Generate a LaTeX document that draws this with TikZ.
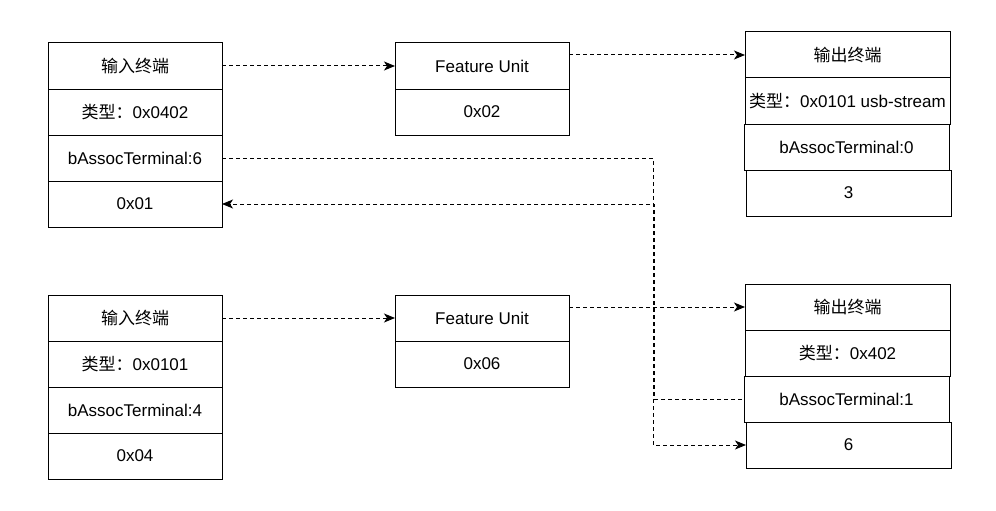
\documentclass[tikz,border=0pt]{standalone}
\usepackage{fontspec}
\setmainfont{Liberation Sans}
\newfontfamily\cjk{Noto Sans CJK SC}
\usetikzlibrary{arrows.meta,positioning}

\tikzset{
  % one row of a descriptor table
  cell/.style={draw, line width=1pt, outer sep=0pt, inner xsep=2pt,
    minimum width=174pt, minimum height=46pt,
    font=\fontsize{17}{20}\selectfont},
  wide cell/.style={cell, minimum width=205pt},
  % dashed connector with a block tip
  link/.style={line width=1pt, dash pattern=on 4pt off 3pt,
    -{Stealth[length=11pt,width=9pt,inset=3pt]}},
}

\begin{document}
\begin{tikzpicture}[x=1pt,y=-1pt]
\useasboundingbox (0,0) rectangle (996,511);

% upper chain
\node[cell] (a1) at (135,66) {{\cjk 输入终端}};
\node[cell,below=0pt of a1] (a2) {{\cjk 类型：}0x0402};
\node[cell,below=0pt of a2] (a3) {bAssocTerminal:6};
\node[cell,below=0pt of a3] (a4) {0x01};

\node[cell] (fu1) at (482,66) {Feature Unit};
\node[cell,below=0pt of fu1] (fu1id) {0x02};

\node[wide cell] (c1) at (847.5,55) {{\cjk 输出终端}};
\node[wide cell,below=0pt of c1] (c2) {{\cjk 类型：}0x0101 usb-stream};
\node[wide cell,below=0pt of c2,xshift=-1pt] (c3) {bAssocTerminal:0};
\node[wide cell,below=0pt of c3,xshift=2pt] (c4) {3};

% lower chain
\node[cell] (b1) at (135,318) {{\cjk 输入终端}};
\node[cell,below=0pt of b1] (b2) {{\cjk 类型：}0x0101};
\node[cell,below=0pt of b2] (b3) {bAssocTerminal:4};
\node[cell,below=0pt of b3] (b4) {0x04};

\node[cell] (fu2) at (482,318) {Feature Unit};
\node[cell,below=0pt of fu2] (fu2id) {0x06};

\node[wide cell] (d1) at (847.5,307) {{\cjk 输出终端}};
\node[wide cell,below=0pt of d1] (d2) {{\cjk 类型：}0x402};
\node[wide cell,below=0pt of d2,xshift=-1pt] (d3) {bAssocTerminal:1};
\node[wide cell,below=0pt of d3,xshift=2pt] (d4) {6};

\coordinate (bus) at (653,0);
\coordinate (bus2) at (654,0);

\draw[link] (a1.east) -- (fu1.west);
\draw[link] (fu1.east |- c1.west) -- (c1.west);
\draw[link] (b1.east) -- (fu2.west);
\draw[link] (fu2.east |- d1.west) -- (d1.west);

% terminal associations
\draw[link] (a3.east) -- (a3.east -| bus) |- (d4.west);
\draw[link,dash phase=5pt] (d3.west) -- (d3.west -| bus2) |- (a4.east);

\end{tikzpicture}
\end{document}
